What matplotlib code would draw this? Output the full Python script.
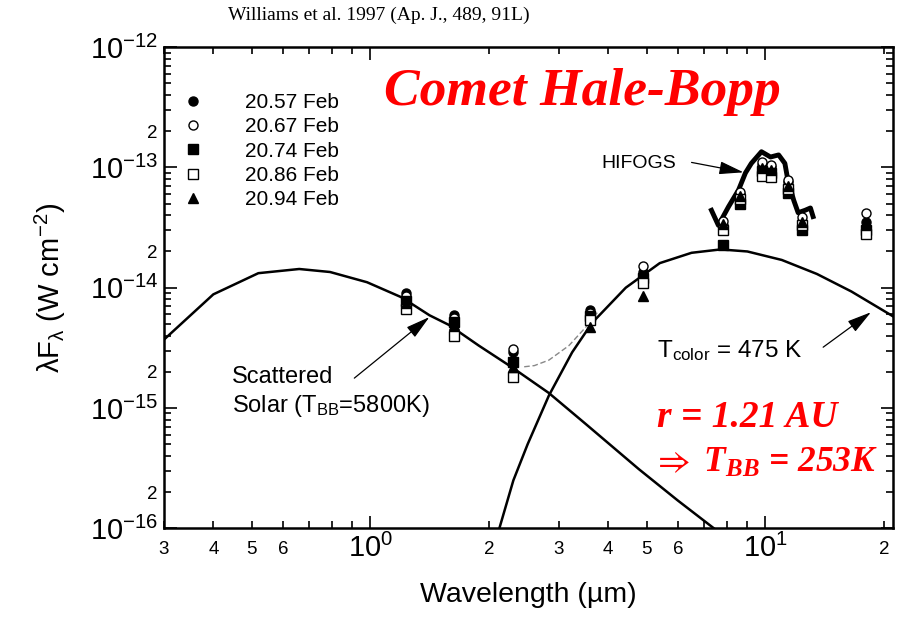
import matplotlib.pyplot as plt
from matplotlib.patches import ArrowStyle

plt.rcParams['font.family'] = ['Liberation Sans', 'DejaVu Sans']
plt.rcParams['mathtext.default'] = 'regular'

# photometry (W cm^-2) for each night, at these wavelengths (um)
wl = [1.23, 1.63, 2.3, 3.6, 4.9, 7.8, 8.6, 9.8, 10.3, 11.4, 12.4, 18.0]
dates = ['20.57 Feb', '20.67 Feb', '20.74 Feb', '20.86 Feb', '20.94 Feb']
f_2057 = [9.0e-15, 5.9e-15, 2.9e-15, 6.5e-15, 1.35e-14, 3.3e-14, 6.0e-14, 1.05e-13, 1.0e-13, 7.5e-14, 3.6e-14, 3.5e-14]
f_2067 = [8.5e-15, 5.6e-15, 3.1e-15, 6.2e-15, 1.5e-14, 3.6e-14, 6.3e-14, 1.1e-13, 1.05e-13, 7.8e-14, 3.9e-14, 4.2e-14]
f_2074 = [7.8e-15, 5.2e-15, 2.4e-15, 5.8e-15, 1.2e-14, 2.25e-14, 5.0e-14, 9.3e-14, 9.0e-14, 6.1e-14, 3.0e-14, 3.0e-14]
f_2086 = [6.7e-15, 4.0e-15, 1.8e-15, 5.4e-15, 1.1e-14, 3.0e-14, 5.5e-14, 8.5e-14, 8.3e-14, 6.6e-14, 3.3e-14, 2.8e-14]
f_2094 = [7.4e-15, 4.9e-15, 2.2e-15, 4.7e-15, 8.5e-15, 3.4e-14, 5.8e-14, 9.8e-14, 9.5e-14, 7.0e-14, 3.5e-14, 3.3e-14]

# HIFOGS spectrum
hif_wl = [7.30, 7.6, 8.06, 8.55, 8.9, 9.21, 9.77, 10.3, 10.8, 11.2, 11.4, 11.8, 12.1, 12.6, 13.0, 13.2]
hif_f = [4.4e-14, 3.3e-14, 4.7e-14, 6.5e-14, 9.0e-14, 1.08e-13, 1.35e-13, 1.22e-13, 1.27e-13, 1.08e-13,
         7.8e-14, 5.3e-14, 4.2e-14, 4.4e-14, 4.6e-14, 3.9e-14]

# scattered sunlight (5800 K) curve
solar_wl = [0.30, 0.40, 0.52, 0.66, 0.79, 0.98, 1.20, 1.41, 1.58, 1.88, 2.28, 2.83, 3.5, 4.78, 6.0, 7.4, 8.0]
solar_f = [3.7e-15, 8.8e-15, 1.32e-14, 1.43e-14, 1.35e-14, 1.11e-14, 8.3e-15, 5.9e-15, 4.9e-15, 3.3e-15,
           2.18e-15, 1.33e-15, 7.4e-16, 3.1e-16, 1.7e-16, 1.0e-16, 8e-17]

# thermal (475 K) curve
tcol_wl = [2.05, 2.12, 2.3, 2.5, 2.83, 3.24, 3.64, 4.43, 5.4, 6.5, 7.7, 9.0, 11.0, 13.5, 16.5, 21.0]
tcol_f = [7e-17, 1.0e-16, 2.5e-16, 5.0e-16, 1.27e-15, 2.9e-15, 5.1e-15, 1.0e-14, 1.6e-14, 1.95e-14,
          2.08e-14, 2.0e-14, 1.7e-14, 1.3e-14, 9.3e-15, 5.8e-15]

# sum of both, dashed
sum_wl = [2.45, 2.6, 2.83, 3.18, 3.57, 3.75]
sum_f = [2.2e-15, 2.25e-15, 2.5e-15, 3.3e-15, 5.0e-15, 6.2e-15]

# ticks
x_major = [1, 10]
x_major_labels = ['$10^{0}$', '$10^{1}$']
x_minor = [0.3, 0.4, 0.5, 0.6, 0.7, 0.8, 0.9, 2, 3, 4, 5, 6, 7, 8, 9, 20]
x_minor_labels = ['3', '4', '5', '6', '', '', '', '2', '3', '4', '5', '6', '', '', '', '2']
y_major = [1e-16, 1e-15, 1e-14, 1e-13, 1e-12]
y_major_labels = ['$10^{-16}$', '$10^{-15}$', '$10^{-14}$', '$10^{-13}$', '$10^{-12}$']
y_minor = [m * 10.0 ** e for e in range(-16, -12) for m in range(2, 10)]
y_minor_labels = ['2' if m == 2 else '' for e in range(-16, -12) for m in range(2, 10)]

fig = plt.figure(figsize=(9.03, 6.2), dpi=100)
ax = fig.add_axes([0.1816, 0.148, 0.807, 0.776])
ax.set_xscale('log')
ax.set_yscale('log')

ax.plot(solar_wl, solar_f, color='black', lw=1.8)
ax.plot(tcol_wl, tcol_f, color='black', lw=1.8)
ax.plot(sum_wl, sum_f, color='#888888', lw=1, ls=(0, (4, 2)))
ax.plot(hif_wl, hif_f, color='black', lw=3.5, solid_joinstyle='round')

styles = [('o', 'black'), ('o', 'white'), ('s', 'black'), ('s', 'white'), ('^', 'black')]
series = [f_2057, f_2067, f_2074, f_2086, f_2094]
for (mk, fc), vals, lab in zip(styles, series, dates):
    ax.plot(wl, vals, ls='none', marker=mk, ms=6.5, mfc=fc, mec='black', mew=1, label=lab, zorder=3)

ax.set_xlim(0.3, 21)
ax.set_ylim(1e-16, 1e-12)
ax.set_xticks(x_major, x_major_labels)
ax.set_xticks(x_minor, x_minor_labels, minor=True)
ax.set_yticks(y_major, y_major_labels)
ax.set_yticks(y_minor, y_minor_labels, minor=True)
ax.tick_params(which='both', direction='in', top=True, right=True, width=1.2)
ax.tick_params(which='major', length=9, labelsize=21, pad=4)
ax.tick_params(which='minor', length=5, labelsize=13.5)
ax.tick_params(axis='x', which='minor', pad=9)
ax.tick_params(axis='y', which='minor', pad=5)
for s in ax.spines.values():
    s.set_linewidth(1.8)

ax.set_xlabel('Wavelength (µm)', fontsize=20.5, labelpad=14)
ax.set_ylabel('λF$_{λ}$ (W cm$^{-2}$)', fontsize=21, labelpad=16)

ax.legend(loc='upper left', bbox_to_anchor=(0.025, 0.905), frameon=False, fontsize=15,
          handlelength=1, handletextpad=2.0, labelspacing=0.26, borderpad=0, borderaxespad=0)

arrow = dict(arrowstyle=ArrowStyle('-|>', head_length=0.75, head_width=0.2), mutation_scale=20,
             color='black', lw=0.9, shrinkA=0, shrinkB=0)

ax.text(0.445, 1.35e-15, 'Scattered\nSolar (T$_{BB}$=5800K)', fontsize=17, ha='left', va='center',
        linespacing=1.25)
ax.annotate('', xy=(1.41, 5.7e-15), xytext=(0.91, 1.77e-15), arrowprops=arrow)

ax.text(5.3, 3.02e-15, 'T$_{color}$ = 475 K', fontsize=17.5, ha='left', va='center')
ax.annotate('', xy=(18.5, 6.25e-15), xytext=(14.0, 3.2e-15), arrowprops=arrow)

ax.text(3.85, 1.08e-13, 'HIFOGS', fontsize=14, ha='left', va='center')
ax.annotate('', xy=(8.8, 9.1e-14), xytext=(6.5, 1.1e-13), arrowprops=arrow)

red = dict(color='#ff0000', family='Liberation Serif', weight='bold', style='italic')
fig.text(0.645, 0.852, 'Comet Hale-Bopp', fontsize=38.5, ha='center', va='center', **red)
fig.text(0.7276, 0.326, 'r = 1.21 AU', fontsize=27, ha='left', va='center', **red)
fig.text(0.722, 0.253, r'$\Rightarrow$ $T_{BB}$ = 253K', fontsize=25.5, ha='left', va='center',
         math_fontfamily='stix', **red)

fig.text(0.42, 0.976, 'Williams et al. 1997 (Ap. J., 489, 91L)', fontsize=14, ha='center',
         va='center', family='Liberation Serif')

fig.savefig('out.png', dpi=100)
